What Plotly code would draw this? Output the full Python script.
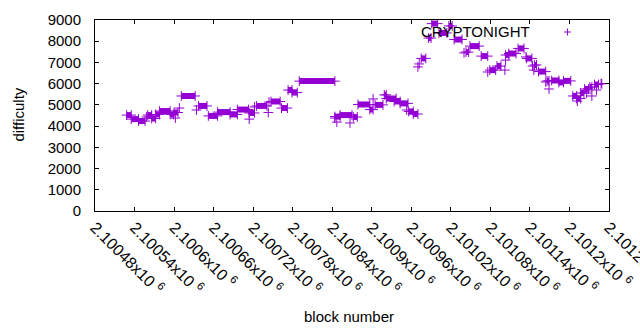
import plotly.graph_objects as go

# Runs of blocks with (approximately) constant difficulty
run_start = [2100528, 2100535, 2100546, 2100558, 2100560, 2100566, 2100572, 2100578, 2100594, 2100602,
             2100600, 2100608, 2100611, 2100634, 2100637, 2100652, 2100666, 2100685, 2100696, 2100714,
             2100714, 2100722, 2100725, 2100743, 2100744, 2100747, 2100763, 2100773, 2100779, 2100790,
             2100844, 2100844, 2100847, 2100852, 2100867, 2100872, 2100879, 2100897, 2100902, 2100905,
             2100919, 2100922, 2100934, 2100943, 2100953, 2100956, 2100963, 2100970, 2100972, 2100975,
             2100986, 2100991, 2101002, 2101017, 2101025, 2101040, 2101043, 2101049, 2101066, 2101076,
             2101079, 2101090, 2101102, 2101103, 2101103, 2101108, 2101122, 2101134, 2101135, 2101144,
             2101146, 2101147, 2101153, 2101164, 2101166, 2101169, 2101173, 2101184, 2101191, 2101205,
             2101211, 2101212, 2101217, 2101223, 2101226, 2101231, 2101234, 2101238, 2101241, 2101248]
run_end = [2100535, 2100546, 2100556, 2100558, 2100566, 2100572, 2100578, 2100594, 2100599, 2100602,
           2100606, 2100608, 2100632, 2100634, 2100650, 2100666, 2100685, 2100696, 2100713, 2100714,
           2100722, 2100722, 2100741, 2100743, 2100744, 2100761, 2100772, 2100779, 2100787, 2100844,
           2100844, 2100852, 2100847, 2100870, 2100867, 2100878, 2100897, 2100902, 2100902, 2100917,
           2100922, 2100937, 2100943, 2100955, 2100953, 2100963, 2100970, 2100970, 2100972, 2100982,
           2100990, 2101000, 2101014, 2101022, 2101037, 2101040, 2101047, 2101063, 2101076, 2101076,
           2101088, 2101096, 2101102, 2101103, 2101108, 2101119, 2101131, 2101134, 2101143, 2101144,
           2101146, 2101150, 2101164, 2101164, 2101169, 2101169, 2101184, 2101191, 2101202, 2101211,
           2101217, 2101212, 2101222, 2101229, 2101226, 2101234, 2101234, 2101244, 2101241, 2101249]
run_diff = [4520, 4330, 4240, 4430, 4520, 4360, 4550, 4710, 4550, 4380,
            4640, 4850, 5420, 4760, 4950, 4480, 4660, 4550, 4780, 4330,
            4620, 4900, 4950, 4640, 5130, 5160, 4850, 5700, 5580, 6120,
            4380, 4450, 4190, 4520, 4150, 4430, 5020, 4780, 5280, 5000,
            5470, 5300, 5160, 5070, 4760, 4690, 4570, 6790, 6930, 7190,
            8150, 8830, 8390, 8720, 8080, 7450, 7490, 7770, 7300, 6550,
            6640, 6830, 6640, 7110, 7350, 7420, 7660, 7260, 7190, 6830,
            6640, 6880, 6570, 6080, 6130, 5750, 6150, 6060, 6130, 5420,
            5300, 5180, 5560, 5750, 5560, 5840, 5420, 5960, 5700, 6000]

tick_vals = [2100480, 2100540, 2100600, 2100660, 2100720, 2100780, 2100840,
             2100900, 2100960, 2101020, 2101080, 2101140, 2101200, 2101260]
tick_mant = ["2.10048", "2.10054", "2.1006", "2.10066", "2.10072", "2.10078", "2.10084",
             "2.1009", "2.10096", "2.10102", "2.10108", "2.10114", "2.1012", "2.10126"]
y_ticks = [0, 1000, 2000, 3000, 4000, 5000, 6000, 7000, 8000, 9000]

COLOR = "#9400D3"
FONT = "Liberation Sans, Arial, sans-serif"

# Build run segments and marker points from the data
seg_x, seg_y, pt_x, pt_y = [], [], [], []
for s, e, d in zip(run_start, run_end, run_diff):
    pt_x.append(s); pt_y.append(d)
    if e != s:
        seg_x += [s, e, None]; seg_y += [d, d, None]
        pt_x.append(e); pt_y.append(d)

fig = go.Figure()
fig.add_trace(go.Scatter(x=seg_x, y=seg_y, mode="lines",
                         line=dict(color=COLOR, width=6), hoverinfo="skip", showlegend=False))
fig.add_trace(go.Scatter(x=pt_x, y=pt_y, mode="markers", name="CRYPTONIGHT",
                         marker=dict(symbol="cross-thin", size=7, color=COLOR,
                                     line=dict(color=COLOR, width=1)),
                         showlegend=False))

ticktext = [m + "x10&nbsp;<sup>6</sup>" for m in tick_mant]

L, R, T, B = 94.5, 609.0, 20.0, 211.0
W, H = 640, 330

fig.update_layout(
    width=W, height=H,
    margin=dict(l=L, r=W - R, t=T, b=H - B, autoexpand=False),
    paper_bgcolor="white", plot_bgcolor="white",
    font=dict(family=FONT, size=15, color="black"),
    xaxis=dict(range=[tick_vals[0], tick_vals[-1]], tickvals=tick_vals, ticktext=ticktext,
               tickangle=45, ticks="inside", ticklen=4, tickcolor="black",
               showline=True, linecolor="black", linewidth=1, mirror="allticks",
               showgrid=False, zeroline=False, automargin=False,
               ticklabeloverflow="allow", tickfont=dict(size=16)),
    yaxis=dict(range=[0, 9000], tickvals=y_ticks, ticks="inside", ticklen=4, tickcolor="black",
               showline=True, linecolor="black", linewidth=1, mirror="allticks",
               showgrid=False, zeroline=False, ticklabelstandoff=10, automargin=False),
    annotations=[
        dict(text="CRYPTONIGHT", xref="paper", yref="paper", x=(532 - L) / (R - L),
             y=(B - 31.5) / (B - T), xanchor="right", yanchor="middle", showarrow=False,
             font=dict(size=15, color="black")),
        dict(text="difficulty", xref="paper", yref="paper", x=(17 - L) / (R - L),
             y=(B - 115) / (B - T), xanchor="center", yanchor="middle", textangle=-90,
             showarrow=False, font=dict(size=15, color="black")),
        dict(text="block number", xref="paper", yref="paper", x=(349 - L) / (R - L),
             y=(B - 316) / (B - T), xanchor="center", yanchor="middle",
             showarrow=False, font=dict(size=15, color="black")),
    ],
    shapes=[
        dict(type="line", xref="paper", yref="paper", xsizemode="pixel",
             xanchor=(567.5 - L) / (R - L), x0=-3.5, x1=3.5,
             y0=(B - 32) / (B - T), y1=(B - 32) / (B - T), line=dict(color=COLOR, width=1)),
        dict(type="line", xref="paper", yref="paper", ysizemode="pixel",
             yanchor=(B - 32) / (B - T), y0=-3.5, y1=3.5,
             x0=(567.5 - L) / (R - L), x1=(567.5 - L) / (R - L), line=dict(color=COLOR, width=1)),
    ],
)

fig.write_html("out.html", config={"displayModeBar": False},
               post_script="document.body.style.margin='0px';")
